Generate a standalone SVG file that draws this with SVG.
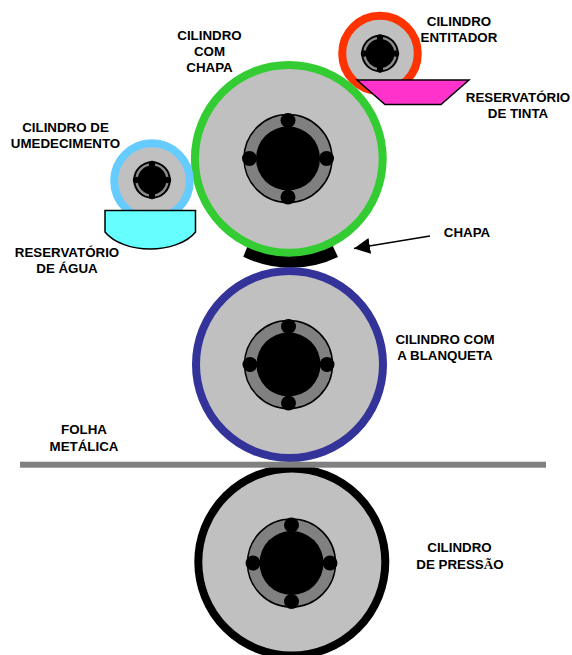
<svg xmlns="http://www.w3.org/2000/svg" width="572" height="655" viewBox="0 0 572 655">
<style>
.body{fill:#c0c0c0;stroke-width:8}
.hub{fill:#808080;stroke:#000;stroke-width:1.5}
.k{fill:#000}
text{font-family:"Liberation Sans",Arial,sans-serif;font-weight:700;font-size:13.33px;fill:#000;text-anchor:middle}
.serif{font-family:"Liberation Serif","Times New Roman",serif}
</style>
<defs>
<g id="bigHub">
<circle class="hub" r="44"/>
<circle class="k" r="32"/>
<circle class="k" cy="-38" r="7.500"/><circle class="k" cy="38.500" r="7.500"/>
<circle class="k" cx="-38.500" r="7.500"/><circle class="k" cx="38.500" r="7.500"/>
</g>
<g id="smallHub">
<circle class="k" r="18.800"/>
<circle r="15.600" fill="none" stroke="#8c8c8c" stroke-width="2.400"/>
<circle class="k" cy="-16" r="3.200"/><circle class="k" cy="16" r="3.200"/>
<circle class="k" cx="-16" r="3.200"/><circle class="k" cx="16" r="3.200"/>
</g>
<marker id="arrow" markerUnits="userSpaceOnUse" markerWidth="17" markerHeight="16" refX="16" refY="8" orient="auto"><path d="M0 0L16 8L0 16Z" fill="#000"/></marker>
</defs>
<g id="chapa"><path d="M243.300 256.700A108 108 0 0 0 338 257L330 240H250Z" fill="#000"/></g>
<g id="cilindro-entitador"><circle class="body" cx="380" cy="53.500" r="37.800" stroke="#ff3300"/><use href="#smallHub" x="380" y="53.500"/></g>
<g id="reservatorio-tinta"><path d="M357 80H469L441 104.500H385Z" fill="#ff33cc" stroke="#000" stroke-width="1.500"/></g>
<g id="cilindro-chapa"><circle class="body" cx="288.800" cy="158.800" r="93.900" stroke="#33cc33"/><use href="#bigHub" x="288" y="158.500"/></g>
<g id="cilindro-umedecimento"><circle class="body" cx="152" cy="181" r="37.800" stroke="#66ccff"/><use href="#smallHub" x="152" y="180"/></g>
<g id="reservatorio-agua"><path d="M105 210.500H195.500V232C187 243 168 249 150 249C132 249 114 243 105 232Z" fill="#66ffff" stroke="#000" stroke-width="1.500"/></g>
<g id="cilindro-blanqueta"><circle class="body" cx="289.500" cy="364.500" r="93.500" stroke="#333399"/><use href="#bigHub" x="288.500" y="364.500"/></g>
<g id="cilindro-pressao"><circle class="body" cx="291.800" cy="562" r="93.500" stroke="#000"/><use href="#bigHub" x="291.500" y="563"/></g>
<g id="folha"><rect x="20" y="461.700" width="526" height="6" fill="#808080"/></g>
<g id="connectors"><line x1="430" y1="236" x2="354" y2="248.500" stroke="#000" stroke-width="1.500" marker-end="url(#arrow)"/></g>
<g id="labels">
<text x="209.500" y="40">CILINDRO</text><text x="209.500" y="56">COM</text><text x="209.500" y="72">CHAPA</text>
<text x="459" y="26">CILINDRO</text><text x="459" y="42">ENTITADOR</text>
<text x="518" y="102">RESERVATÓRIO</text><text x="518" y="118">DE TINTA</text>
<text x="65.500" y="132">CILINDRO DE</text><text x="65.500" y="148">UMEDECIMENTO</text>
<text x="67" y="257">RESERVATÓRIO</text><text x="67" y="273">DE ÁGUA</text>
<text x="467" y="237">CHAPA</text>
<text x="445" y="344">CILINDRO COM</text><text x="445" y="360">A BLANQUETA</text>
<text x="84" y="434">FOLHA</text><text x="84" y="451">METÁLICA</text>
<text x="459.500" y="552">CILINDRO</text><text x="460" y="569">DE PRESS<tspan class="serif">Ã</tspan>O</text>
</g>
</svg>
